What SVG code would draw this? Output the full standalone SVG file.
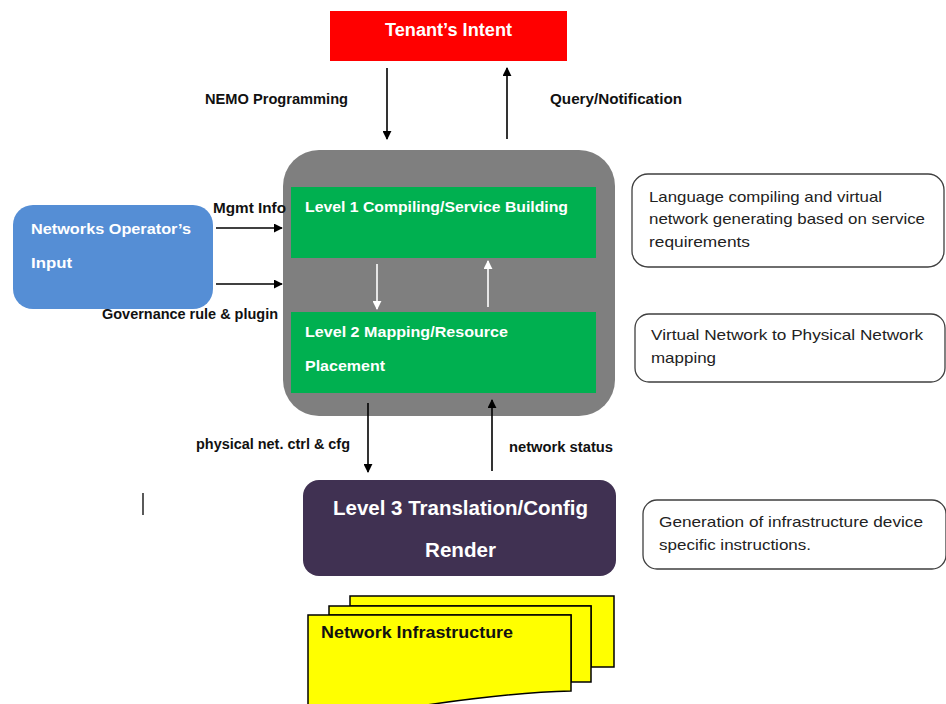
<svg xmlns="http://www.w3.org/2000/svg" width="946" height="704" viewBox="0 0 946 704">
  <style>
    .lbl { font-family: "Liberation Sans", Arial, sans-serif; font-weight: bold; font-size: 14px; fill: #111; }
    .wt { font-family: "Liberation Sans", Arial, sans-serif; font-weight: bold; fill: #fff; }
    .desc { font-family: "Liberation Sans", Arial, sans-serif; font-size: 15px; fill: #222; }
    .note { fill: #fff; stroke: #3f3f3f; stroke-width: 1.3; }
    .conn { stroke: #000; stroke-width: 1.6; fill: none; }
    .connw { stroke: #fff; stroke-width: 1.6; fill: none; }
    .sheet { fill: #ffff00; stroke: #000; stroke-width: 1.5; }
  </style>
  <defs>
    <marker id="ah" viewBox="0 0 10 10" refX="9" refY="5" markerWidth="9" markerHeight="9" markerUnits="userSpaceOnUse" orient="auto">
      <path d="M0,0 L10,5 L0,10 z" fill="#000"/>
    </marker>
    <marker id="ahw" viewBox="0 0 10 10" refX="9" refY="5" markerWidth="9" markerHeight="9" markerUnits="userSpaceOnUse" orient="auto">
      <path d="M0,0 L10,5 L0,10 z" fill="#fff"/>
    </marker>
  </defs>
  <rect width="946" height="704" fill="#fff"/>

  <!-- tenant -->
  <g id="tenant">
    <rect x="330" y="11" width="237" height="50" fill="#ff0000"/>
    <text class="wt" x="448.5" y="36" font-size="18" text-anchor="middle" textLength="127" lengthAdjust="spacingAndGlyphs">Tenant’s Intent</text>
  </g>

  <!-- controller container with levels 1 and 2 -->
  <g id="engine">
    <rect x="283" y="150" width="332" height="266" rx="36" ry="36" fill="#7f7f7f"/>
  </g>
  <g id="level1">
    <rect x="291" y="187" width="305" height="71" fill="#00b050"/>
    <text class="wt" x="305" y="212" font-size="15" textLength="263" lengthAdjust="spacingAndGlyphs">Level 1 Compiling/Service Building</text>
  </g>
  <g id="level2">
    <rect x="291" y="312" width="305" height="81" fill="#00b050"/>
    <text class="wt" x="305" y="337" font-size="15" textLength="203" lengthAdjust="spacingAndGlyphs">Level 2 Mapping/Resource</text>
    <text class="wt" x="305" y="371" font-size="15" textLength="80" lengthAdjust="spacingAndGlyphs">Placement</text>
  </g>

  <!-- operator input -->
  <g id="operator">
    <rect x="13" y="205" width="200" height="104" rx="20" ry="20" fill="#558ed5"/>
    <text class="wt" x="31" y="234" font-size="15" textLength="160" lengthAdjust="spacingAndGlyphs">Networks Operator’s</text>
    <text class="wt" x="31" y="268" font-size="15" textLength="41" lengthAdjust="spacingAndGlyphs">Input</text>
  </g>

  <!-- level 3 -->
  <g id="level3">
    <rect x="303" y="480" width="313" height="96" rx="16" ry="16" fill="#403152"/>
    <text class="wt" x="460.5" y="515" font-size="20" text-anchor="middle" textLength="255" lengthAdjust="spacingAndGlyphs">Level 3 Translation/Config</text>
    <text class="wt" x="460.5" y="557" font-size="20" text-anchor="middle" textLength="71" lengthAdjust="spacingAndGlyphs">Render</text>
  </g>

  <!-- infrastructure stack -->
  <g id="infrastructure">
    <path class="sheet" d="M350,596 H614 V667 H591 V606 H350 Z"/>
    <path class="sheet" d="M329,606 H591 V682 H571 V615 H329 Z"/>
    <path class="sheet" d="M308,615 H571 V691 C530,692 480,697 420,706 L308,712 Z"/>
    <text x="321" y="638" font-family="'Liberation Sans', Arial, sans-serif" font-weight="bold" font-size="16" fill="#111" textLength="192" lengthAdjust="spacingAndGlyphs">Network Infrastructure</text>
  </g>

  <!-- descriptions -->
  <g id="desc1">
    <rect class="note" x="632" y="174" width="312" height="93" rx="16" ry="16"/>
    <text class="desc" x="649" y="202" textLength="233" lengthAdjust="spacingAndGlyphs">Language compiling and virtual</text>
    <text class="desc" x="649" y="224" textLength="276" lengthAdjust="spacingAndGlyphs">network generating based on service</text>
    <text class="desc" x="649" y="247" textLength="101" lengthAdjust="spacingAndGlyphs">requirements</text>
  </g>
  <g id="desc2">
    <rect class="note" x="635" y="314" width="310" height="68" rx="14" ry="14"/>
    <text class="desc" x="651" y="340" textLength="272" lengthAdjust="spacingAndGlyphs">Virtual Network to Physical Network</text>
    <text class="desc" x="651" y="363" textLength="65" lengthAdjust="spacingAndGlyphs">mapping</text>
  </g>
  <g id="desc3">
    <rect class="note" x="643" y="500" width="303" height="69" rx="14" ry="14"/>
    <text class="desc" x="659" y="527" textLength="264" lengthAdjust="spacingAndGlyphs">Generation of infrastructure device</text>
    <text class="desc" x="659" y="550" textLength="152" lengthAdjust="spacingAndGlyphs">specific instructions.</text>
  </g>

  <!-- connectors -->
  <g id="connectors">
    <line class="conn" x1="387" y1="68" x2="387" y2="139" marker-end="url(#ah)"/>
    <line class="conn" x1="507" y1="139" x2="507" y2="68" marker-end="url(#ah)"/>
    <line class="conn" x1="216" y1="228" x2="282" y2="228" marker-end="url(#ah)"/>
    <line class="conn" x1="216" y1="284" x2="282" y2="284" marker-end="url(#ah)"/>
    <line class="connw" x1="377" y1="264" x2="377" y2="309" marker-end="url(#ahw)"/>
    <line class="connw" x1="488" y1="307" x2="488" y2="261" marker-end="url(#ahw)"/>
    <line class="conn" x1="368" y1="403" x2="368" y2="472" marker-end="url(#ah)"/>
    <line class="conn" x1="492" y1="471" x2="492" y2="400" marker-end="url(#ah)"/>
  </g>

  <!-- connector labels -->
  <g id="labels">
    <text class="lbl" x="205" y="104" textLength="143" lengthAdjust="spacingAndGlyphs">NEMO Programming</text>
    <text class="lbl" x="550" y="104" textLength="132" lengthAdjust="spacingAndGlyphs">Query/Notification</text>
    <text class="lbl" x="213" y="213" textLength="73" lengthAdjust="spacingAndGlyphs">Mgmt Info</text>
    <text class="lbl" x="102" y="319" textLength="176" lengthAdjust="spacingAndGlyphs">Governance rule &amp; plugin</text>
    <text class="lbl" x="196" y="449" textLength="154" lengthAdjust="spacingAndGlyphs">physical net. ctrl &amp; cfg</text>
    <text class="lbl" x="509" y="452" textLength="104" lengthAdjust="spacingAndGlyphs">network status</text>
  </g>

  <!-- stray cursor mark -->
  <line x1="143" y1="493" x2="143" y2="515" stroke="#000" stroke-width="1.3"/>
</svg>
